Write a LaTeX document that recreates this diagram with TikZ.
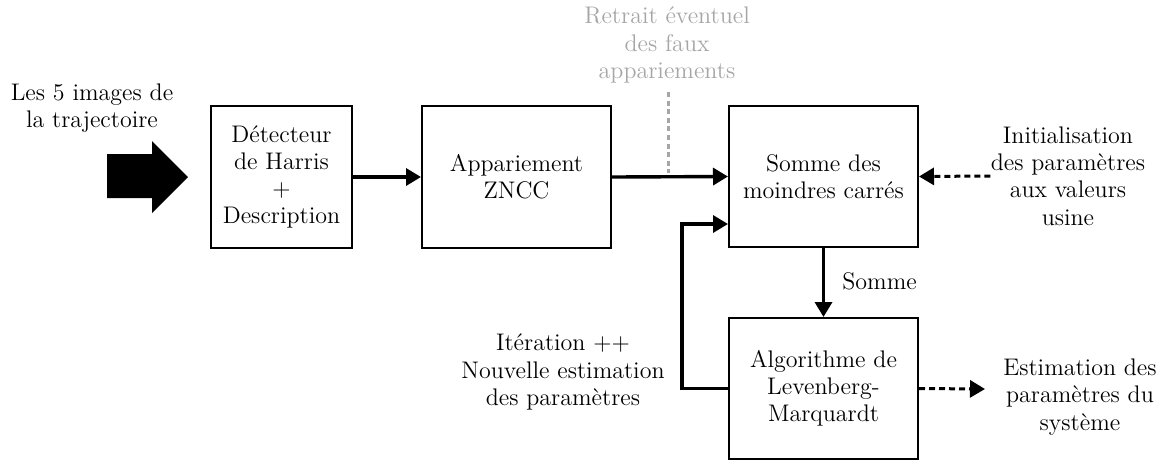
\documentclass[tikz,border=0pt]{standalone}
\usetikzlibrary{arrows.meta}
\begin{document}
\begin{tikzpicture}[x=0.5pt,y=-0.5pt,
  font=\fontsize{12}{13.6}\selectfont,
  blk/.style={draw,line width=1pt,inner sep=0pt,align=center,minimum width=94.5pt,minimum height=70.5pt},
  lbl/.style={align=center,inner sep=0pt},
  conn/.style={line width=1.7pt,-{Triangle[length=7.5pt,width=8.5pt]}},
  dconn/.style={line width=1.5pt,dash pattern=on 3pt off 2pt,-{Triangle[length=7.5pt,width=8.5pt]}},
  faint/.style={color=black!35}]
\useasboundingbox (0,0) rectangle (1169,463);

% input
\node[lbl] (input) at (92,108) {Les 5 images de\\la trajectoire};
\fill (107,154) -- (152,154) -- (152,141) -- (188,177) -- (152,213) -- (152,198) -- (107,198) -- cycle;

% blocks
\node[blk,minimum width=70.5pt,minimum height=71pt] (harris) at (281.5,177) {D\'etecteur\\de Harris\\+\\Description};
\node[blk,minimum height=71pt] (zncc) at (516.5,177) {Appariement\\ZNCC};
\node[blk] (somme) at (823.5,176.5) {Somme des\\moindres carr\'es};
\node[blk] (lm) at (823.5,388.5) {Algorithme de\\Levenberg-\\Marquardt};

% labels
\node[lbl,faint] (retrait) at (667,45) {Retrait \'eventuel\\des faux\\appariements};
\node[lbl] (init) at (1068,176) {Initialisation\\des param\`etres\\aux valeurs\\usine};
\node[lbl] (iter) at (563,372) {It\'eration ++\\Nouvelle estimation\\des param\`etres};
\node[lbl] (estim) at (1080,397) {Estimation des\\param\`etres du\\syst\`eme};
\node[lbl,anchor=west] (sommelbl) at (842,281) {Somme};

% connectors
\draw[conn] (harris.east) -- (zncc.west);
\draw[conn] (zncc.east) -- (somme.west);
\coordinate (rtop) at (668,92);
\coordinate (rbot) at (668,173);
\draw[faint,line width=1.5pt,dash pattern=on 2.5pt off 1.8pt] (rtop) -- (rbot);
\draw[dconn] (init.west) -- (somme.east);
\draw[conn] (somme.south) -- (lm.north);
\coordinate (fb) at (682,224);
\draw[conn] (lm.west) -| (fb) -- (somme.west |- fb);
\coordinate (estin) at (985,389);
\draw[dconn] (lm.east) -- (estin);
\end{tikzpicture}
\end{document}
